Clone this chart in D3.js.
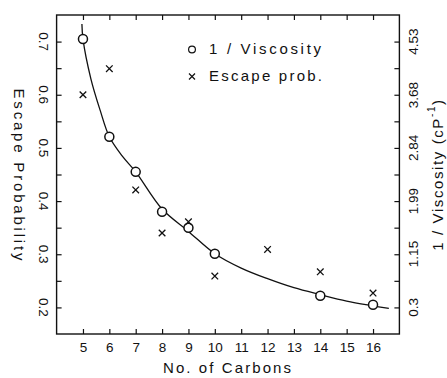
<!DOCTYPE html>
<html>
<head>
<meta charset="utf-8">
<script src="https://cdn.jsdelivr.net/npm/d3@7"></script>
<style>
  body { margin: 0; background: #fff; }
  svg text { font-family: "Liberation Sans", "DejaVu Sans", sans-serif; fill: #111; }
</style>
</head>
<body>
<svg id="chart"></svg>
<script>
// values
const carbonTicks = [5, 6, 7, 8, 9, 10, 11, 12, 13, 14, 15, 16];
const probTicks = [0.2, 0.3, 0.4, 0.5, 0.6, 0.7];
const probMinor = [0.2, 0.25, 0.3, 0.35, 0.4, 0.45, 0.5, 0.55, 0.6, 0.65, 0.7];
const viscTicks = [0.3, 1.15, 1.99, 2.84, 3.68, 4.53];

// 1/viscosity points (plotted on escape-probability scale)
const viscCarbons = [5, 6, 7, 8, 9, 10, 14, 16];
const viscValues = [0.705, 0.521, 0.455, 0.380, 0.350, 0.301, 0.222, 0.205];

// escape probability points
const escCarbons = [5, 6, 7, 8, 9, 10, 12, 14, 16];
const escValues = [0.600, 0.649, 0.421, 0.340, 0.361, 0.259, 0.309, 0.267, 0.227];

// fitted curve, read at a few carbons
const fitCarbons = [4.96, 5, 5.3, 5.65, 6, 6.5, 7, 8, 9, 10, 11, 12, 13, 14, 15, 16, 16.6];
const fitValues = [0.733, 0.705, 0.630, 0.571, 0.521, 0.484, 0.455, 0.385, 0.343, 0.301, 0.274, 0.254, 0.237, 0.224, 0.212, 0.203, 0.198];

const width = 447, height = 378;
const svg = d3.select("#chart").attr("width", width).attr("height", height);

const x = d3.scaleLinear().domain([4, 17]).range([56.6, 399.4]);
const y = d3.scaleLinear().domain([0.15, 0.75]).range([334, 15]);
// right axis shares positions with the left one
const k = (4.53 - 0.3) / 0.5;
const yR = d3.scaleLinear().domain([0.3 - 0.05 * k, 4.53 + 0.05 * k]).range([334, 15]);

// frame
svg.append("rect")
  .attr("x", x(4)).attr("y", y(0.75))
  .attr("width", x(17) - x(4)).attr("height", y(0.15) - y(0.75))
  .attr("fill", "none").attr("stroke", "#111").attr("stroke-width", 1.4);

function tidy(g) {
  g.select(".domain").remove();
  g.selectAll(".tick line").attr("stroke", "#111").attr("stroke-width", 1.2);
  g.selectAll("text").attr("font-size", 13.5).attr("fill", "#111");
}

// bottom
svg.append("g")
  .attr("transform", `translate(0,${y(0.15)})`)
  .call(d3.axisBottom(x).tickValues(carbonTicks).tickSizeInner(-5).tickSizeOuter(0).tickPadding(8))
  .call(tidy)
  .attr("font-family", null);

// top
svg.append("g")
  .attr("transform", `translate(0,${y(0.75)})`)
  .call(d3.axisTop(x).tickValues(carbonTicks).tickSizeInner(-5).tickSizeOuter(0).tickFormat(""))
  .call(tidy);

// left ticks
svg.append("g")
  .attr("transform", `translate(${x(4)},0)`)
  .call(d3.axisLeft(y).tickValues(probMinor).tickSizeInner(-5).tickSizeOuter(0).tickFormat(""))
  .call(tidy);

// left labels, rotated
svg.append("g").selectAll("text")
  .data(probTicks)
  .join("text")
  .attr("transform", d => `translate(${x(4) - 13.5},${y(d)}) rotate(90)`)
  .attr("text-anchor", "middle")
  .attr("dominant-baseline", "central")
  .attr("font-size", 13.5)
  .text(d3.format(".1f"));

// right ticks
svg.append("g")
  .attr("transform", `translate(${x(17)},0)`)
  .call(d3.axisRight(y).tickValues(probMinor).tickSizeInner(-5).tickSizeOuter(0).tickFormat(""))
  .call(tidy);

svg.append("g").selectAll("text")
  .data(viscTicks)
  .join("text")
  .attr("transform", d => `translate(${x(17) + 14},${yR(d)}) rotate(-90)`)
  .attr("text-anchor", "middle")
  .attr("dominant-baseline", "central")
  .attr("font-size", 13.5)
  .text(d => d);

// axis titles
svg.append("text")
  .attr("x", 227).attr("y", 373)
  .attr("text-anchor", "middle")
  .attr("font-size", 15)
  .attr("textLength", 128).attr("lengthAdjust", "spacing")
  .text("No. of Carbons");

svg.append("text")
  .attr("transform", `translate(19,${(y(0.75) + y(0.15)) / 2}) rotate(90)`)
  .attr("text-anchor", "middle")
  .attr("dominant-baseline", "central")
  .attr("font-size", 15)
  .attr("textLength", 172).attr("lengthAdjust", "spacing")
  .text("Escape Probability");

const rt = svg.append("text")
  .attr("transform", `translate(437,${(y(0.75) + y(0.15)) / 2}) rotate(-90)`)
  .attr("text-anchor", "middle")
  .attr("dominant-baseline", "central")
  .attr("font-size", 15)
  .attr("letter-spacing", 1.6);
rt.append("tspan").text("1 / Viscosity (cP");
rt.append("tspan").attr("dy", -6).attr("font-size", 10).text("-1");
rt.append("tspan").attr("dy", 6).text(")");

// fitted curve
const line = d3.line()
  .x((d, i) => x(fitCarbons[i]))
  .y(d => y(d))
  .curve(d3.curveCatmullRom);

svg.append("path")
  .datum(fitValues)
  .attr("d", line)
  .attr("fill", "none")
  .attr("stroke", "#111")
  .attr("stroke-width", 1.3);

// circles
svg.append("g").selectAll("circle")
  .data(viscValues)
  .join("circle")
  .attr("cx", (d, i) => x(viscCarbons[i]))
  .attr("cy", d => y(d))
  .attr("r", 4.5)
  .attr("fill", "#fff")
  .attr("stroke", "#111")
  .attr("stroke-width", 1.5);

// crosses
const s = 3.3;
svg.append("g").selectAll("path")
  .data(escValues)
  .join("path")
  .attr("d", (d, i) => {
    const cx = x(escCarbons[i]), cy = y(d);
    return `M${cx - s},${cy - s}L${cx + s},${cy + s}M${cx - s},${cy + s}L${cx + s},${cy - s}`;
  })
  .attr("stroke", "#111")
  .attr("stroke-width", 1.3);

// legend
const legend = svg.append("g");
legend.append("circle")
  .attr("cx", 192).attr("cy", 49.5).attr("r", 3.4)
  .attr("fill", "none").attr("stroke", "#111").attr("stroke-width", 1.2);
legend.append("path")
  .attr("d", "M189,73.5L195,79.5M189,79.5L195,73.5")
  .attr("stroke", "#111").attr("stroke-width", 1.2);
legend.append("text")
  .attr("x", 209).attr("y", 53.5)
  .attr("font-size", 15)
  .attr("textLength", 112).attr("lengthAdjust", "spacing")
  .text("1 / Viscosity");
legend.append("text")
  .attr("x", 209).attr("y", 80.5)
  .attr("font-size", 15)
  .attr("textLength", 113).attr("lengthAdjust", "spacing")
  .text("Escape prob.");
</script>
</body>
</html>
